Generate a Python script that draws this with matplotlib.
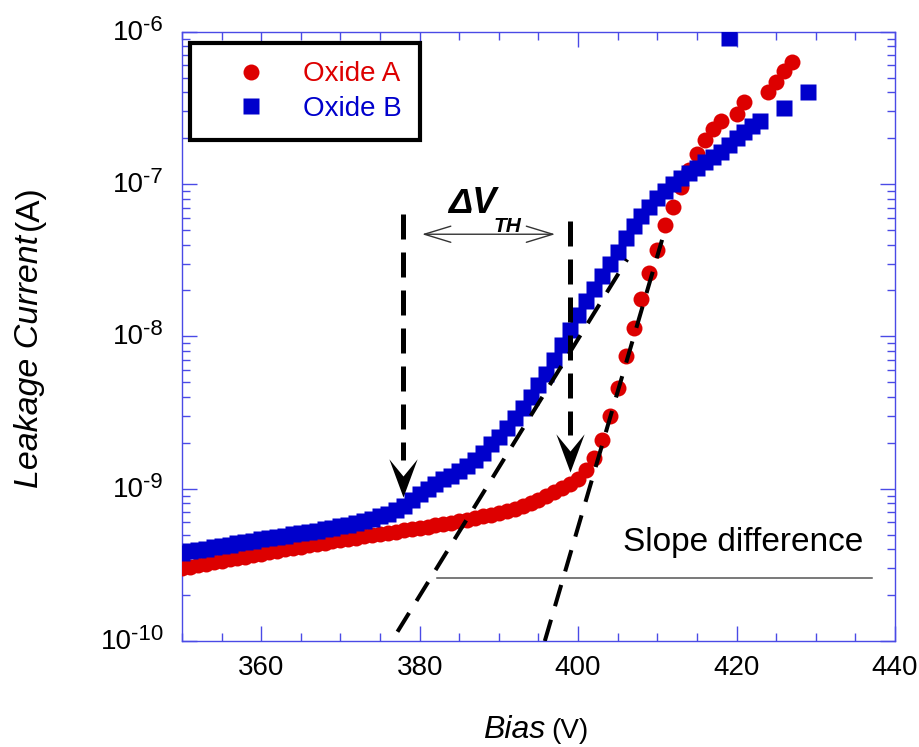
import matplotlib
matplotlib.use('Agg')
import numpy as np
from matplotlib import pyplot as plt
from matplotlib.path import Path
from matplotlib.ticker import FixedLocator, MultipleLocator, LogLocator, NullFormatter

plt.rcParams['font.family'] = ['Liberation Sans', 'DejaVu Sans']

# Oxide A (red circles), bias in V, current in units of 1e-10 A
bias_a = list(range(350, 419)) + [420, 421, 424, 425, 426, 427]
current_a = [3.00, 3.07, 3.14, 3.21, 3.28, 3.36, 3.43, 3.50, 3.58, 3.66,
             3.75, 3.83, 3.91, 3.99, 4.07, 4.15, 4.24, 4.33, 4.42, 4.51,
             4.60, 4.68, 4.77, 4.86, 4.95, 5.04, 5.13, 5.22, 5.32, 5.42,
             5.52, 5.63, 5.74, 5.86, 5.98, 6.10, 6.25, 6.40, 6.57, 6.75,
             6.95, 7.15, 7.40, 7.70, 8.00, 8.40, 8.90, 9.50, 10.1, 10.8,
             11.6, 13.2, 15.9, 21.0, 30.0, 46.0, 74.0, 114, 177, 260,
             370, 535, 710, 950, 1230, 1570, 1940, 2300, 2600,
             2900, 3450, 4000, 4700, 5500, 6300]

# Oxide B (blue squares)
bias_b = list(range(350, 424)) + [426, 429, 419]
current_b = [3.80, 3.88, 3.96, 4.04, 4.12, 4.20, 4.28, 4.37, 4.46, 4.55,
             4.65, 4.74, 4.83, 4.92, 5.01, 5.10, 5.20, 5.30, 5.42, 5.53,
             5.65, 5.80, 5.97, 6.15, 6.35, 6.57, 6.85, 7.20, 7.70, 8.40,
             9.20, 10.0, 10.7, 11.5, 12.2, 13.0, 14.0, 15.5, 17.2, 19.5,
             22, 25, 29, 34, 40, 48, 57, 70, 88, 110,
             138, 170, 205, 250, 300, 360, 440, 530, 620, 710,
             810, 900, 1000, 1100, 1180, 1280, 1400, 1500, 1630, 1800,
             2000, 2200, 2400, 2600,
             3150, 4000, 9100]

current_a = np.array(current_a) * 1e-10
current_b = np.array(current_b) * 1e-10

# tangent lines and threshold markers
fit_a = ([395.8, 410.6], [1.0e-10, 4.3e-8])
fit_b = ([377.2, 406.2], [1.15e-10, 3.2e-8])
vth_b = 377.95
vth_a = 398.98

decades = [1e-10, 1e-9, 1e-8, 1e-7, 1e-6]
exponents = ['-10', '-9', '-8', '-7', '-6']

red = '#DD0000'
blue = '#0000CC'
axis_blue = '#4a4ae6'

fig = plt.figure(figsize=(9.2, 7.47), dpi=100)
ax = fig.add_axes([0.1978, 0.1419, 0.775, 0.8157])

la, = ax.plot(bias_a, current_a, 'o', color=red, ms=11.5, mec='none', label='Oxide A', zorder=3)
lb, = ax.plot(bias_b, current_b, 's', color=blue, ms=12, mec='none', label='Oxide B', zorder=4)

ax.plot(fit_a[0], fit_a[1], color='black', lw=2.9, ls=(0, (5.5, 3.5)), zorder=5)
ax.plot(fit_b[0], fit_b[1], color='black', lw=2.9, ls=(0, (5.5, 3.5)), zorder=5)

# dashed vertical arrows
head = Path([(0, 0), (-0.37, 1.0), (0, 0.55), (0.37, 1.0), (0, 0)],
            [Path.MOVETO, Path.LINETO, Path.LINETO, Path.LINETO, Path.CLOSEPOLY])
ax.plot([vth_b, vth_b], [6.4e-8, 1.54e-9], color='black', lw=3.6, ls=(0, (5, 2.6)), zorder=5)
ax.plot([vth_b], [8.8e-10], marker=head, ms=55, color='black', mew=0, ls='none', zorder=6)
ax.plot([vth_a, vth_a], [5.7e-8, 2.24e-9], color='black', lw=3.6, ls=(0, (5, 2.6)), zorder=5)
ax.plot([vth_a], [1.29e-9], marker=head, ms=55, color='black', mew=0, ls='none', zorder=6)

# delta V_TH double arrow
ax.annotate('', xy=(380.3, 4.68e-8), xytext=(397.1, 4.68e-8),
            arrowprops=dict(arrowstyle='<->,head_length=19,head_width=5.8', mutation_scale=1,
                            color='#333333', lw=1.0, shrinkA=0, shrinkB=0))
ax.text(383.6, 6.45e-8, '\u0394V', fontsize=26, fontweight='bold', fontstyle='italic', va='baseline')
ax.text(389.3, 4.84e-8, 'TH', fontsize=15, fontweight='bold', fontstyle='italic', va='baseline')

# slope difference
ax.text(405.7, 4.4e-10, 'Slope difference', fontsize=24, va='center')
ax.plot([382.2, 437.1], [2.6e-10, 2.6e-10], color='#555555', lw=1.1, zorder=2)

ax.set_xlim(350, 440)
ax.set_yscale('log')
ax.set_ylim(1e-10, 1e-6)
ax.xaxis.set_major_locator(FixedLocator([360, 380, 400, 420, 440]))
ax.xaxis.set_minor_locator(MultipleLocator(5))
ax.yaxis.set_major_locator(FixedLocator(decades))
ax.yaxis.set_major_formatter(NullFormatter())
ax.yaxis.set_minor_locator(LogLocator(base=10, subs=np.arange(2, 10)))
ax.yaxis.set_minor_formatter(NullFormatter())

ax.tick_params(which='both', direction='in', top=True, right=True, color=axis_blue, width=1)
ax.tick_params(which='major', length=10.8, labelsize=20)
ax.tick_params(axis='x', which='major', pad=10)
ax.tick_params(which='minor', length=5.8)
for sp in ax.spines.values():
    sp.set_color(axis_blue)
    sp.set_linewidth(1.0)

leg = ax.legend(handles=[la, lb], loc='upper left', bbox_to_anchor=(0.0112, 0.981), borderaxespad=0,
                fancybox=False, edgecolor='black', framealpha=1, fontsize=20, handlelength=3.1,
                handletextpad=0.32, borderpad=0.65, labelspacing=0.32, numpoints=1)
leg.get_frame().set_linewidth(3)
for t, c in zip(leg.get_texts(), [red, blue]):
    t.set_color(c)

# axis labels: italic name + upright unit
xl = ax.text(0.422, -0.159, 'Bias', fontsize=23, fontstyle='italic', transform=ax.transAxes, va='baseline')
yl = ax.text(-0.202, 0.251, 'Leakage Current', fontsize=24.5, fontstyle='italic', rotation=90,
             rotation_mode='anchor', transform=ax.transAxes, ha='left', va='baseline')

# decade labels "10" with a raised exponent, right-aligned against the axis
inv = ax.transAxes.inverted()
exp_texts = []
for d, e in zip(decades, exponents):
    ty = ax.transData.transform((350, d))[1]
    x_ax, y_ax = inv.transform((163, ty + 1))
    exp_texts.append(ax.text(x_ax, y_ax, e, fontsize=16, ha='right', va='baseline',
                             transform=ax.transAxes, clip_on=False))

fig.canvas.draw()
r = fig.canvas.get_renderer()
bx = xl.get_window_extent(r)
by = yl.get_window_extent(r)
ax.text(inv.transform((bx.x1 + 6, 0))[0], -0.159, '(V)', fontsize=20, transform=ax.transAxes, va='baseline')
ax.text(-0.202, inv.transform((0, by.y1 + 5))[1], '(A)', fontsize=24, rotation=90,
        rotation_mode='anchor', transform=ax.transAxes, ha='left', va='baseline')
for d, et in zip(decades, exp_texts):
    ty = ax.transData.transform((350, d))[1]
    eb = et.get_window_extent(r)
    x_ax, y_ax = inv.transform((eb.x0 + 1, ty - 8))
    ax.text(x_ax, y_ax, '10', fontsize=20, ha='right', va='baseline', transform=ax.transAxes, clip_on=False)

fig.savefig('out.png', dpi=100)
